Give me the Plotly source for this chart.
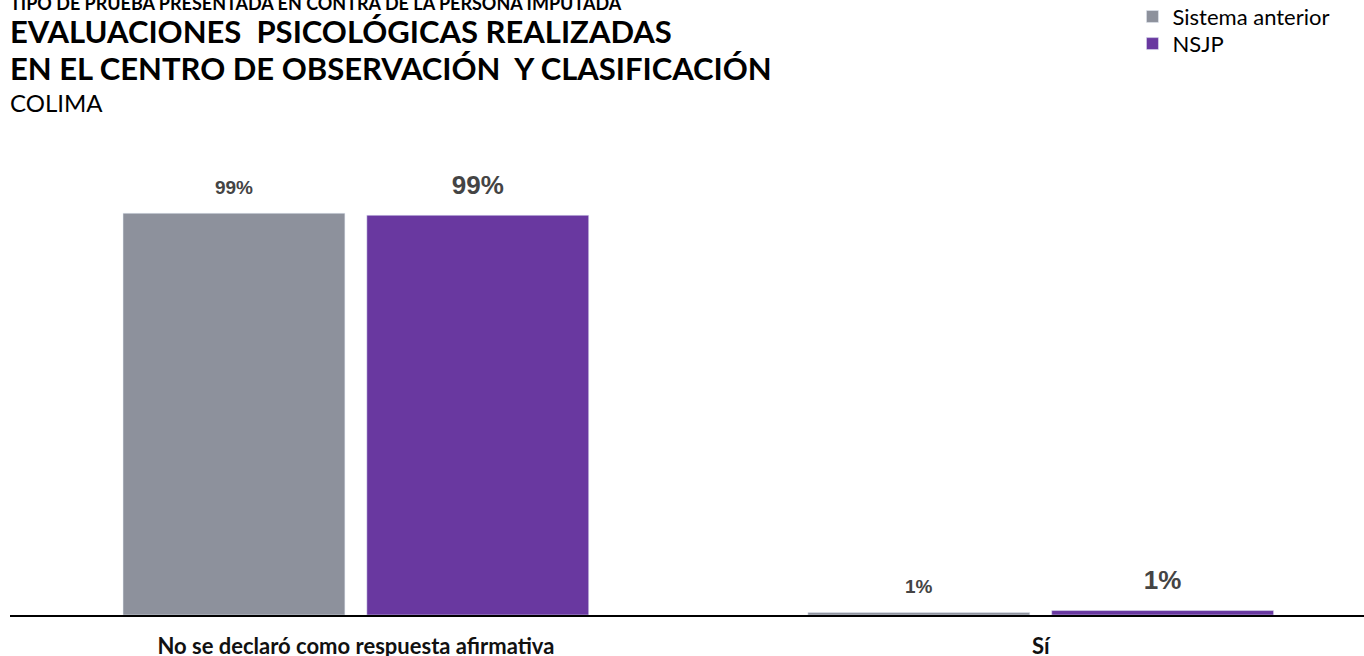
import plotly.graph_objects as go

# data
categorias = ["No se declaró como respuesta afirmativa", "Sí"]
sistema_anterior = [99.4, 0.6]
nsjp = [98.9, 1.1]

GRIS = "#8D919C"
MORADO = "#6938A0"


def make_fig():
    fig = go.Figure()

    # the blank second line lifts the label away from the bar top
    fig.add_trace(go.Bar(
        x=categorias,
        y=sistema_anterior,
        name="Sistema anterior",
        legend="legend",
        marker=dict(color=GRIS),
        texttemplate="<span style='font-size:19px'><b>%{y:.0f}%</b></span><br> ",
        textposition="outside",
        textfont=dict(family="Liberation Sans", size=11, color="#444444"),
        cliponaxis=False,
    ))
    fig.add_trace(go.Bar(
        x=categorias,
        y=nsjp,
        name="NSJP",
        legend="legend2",
        marker=dict(color=MORADO),
        texttemplate="<span style='font-size:26px'><b>%{y:.0f}%</b></span><br> ",
        textposition="outside",
        textfont=dict(family="Liberation Sans", size=12, color="#444444"),
        cliponaxis=False,
    ))

    # title block
    titulos = [
        ("<b>TIPO DE PRUEBA PRESENTADA EN CONTRA DE LA PERSONA IMPUTADA</b>", 18, 3),
        ("<b>EVALUACIONES&nbsp; PSICOLÓGICAS REALIZADAS</b>", 31, 31),
        ("<b>EN EL CENTRO DE OBSERVACIÓN&nbsp; Y CLASIFICACIÓN</b>", 31, 68),
        ("COLIMA", 24, 102),
    ]
    for texto, size, ypix in titulos:
        fig.add_annotation(
            text=texto,
            xref="paper", yref="paper", x=0, y=1.0,
            xanchor="left", yanchor="middle",
            yshift=130 - ypix, xshift=-2, showarrow=False,
            font=dict(family="Lato", size=size, color="#000000"),
        )

    leyenda = dict(
        x=0.829, xanchor="left", yanchor="top",
        font=dict(family="Lato", size=22, color="#000000"),
        bgcolor="rgba(0,0,0,0)",
        itemwidth=30,
    )

    fig.update_layout(
        width=1364,
        height=656,
        margin=dict(l=10, r=0, t=130, b=41, autoexpand=False),
        paper_bgcolor="white",
        plot_bgcolor="white",
        barmode="group",
        bargap=0.288,
        bargroupgap=0.09,
        showlegend=True,
        legend=dict(leyenda, y=1.277),
        legend2=dict(leyenda, y=1.221),
        xaxis=dict(
            range=[-0.505, 1.472],
            showline=True,
            linecolor="#000000",
            linewidth=2,
            showgrid=False,
            ticks="",
            ticklabelstandoff=11,
            tickfont=dict(family="Lato", size=22, color="#111111"),
            tickprefix="<b>", ticksuffix="</b>",
        ),
        yaxis=dict(
            range=[0, 120],
            visible=False,
            showgrid=False,
        ),
    )
    return fig


def main():
    fig = make_fig()
    # drop the default body margin so the figure sits at the page corner
    fig.write_html(
        "out.html",
        config={"displayModeBar": False},
        post_script="document.body.style.margin='0';",
    )


if __name__ == "__main__":
    main()
